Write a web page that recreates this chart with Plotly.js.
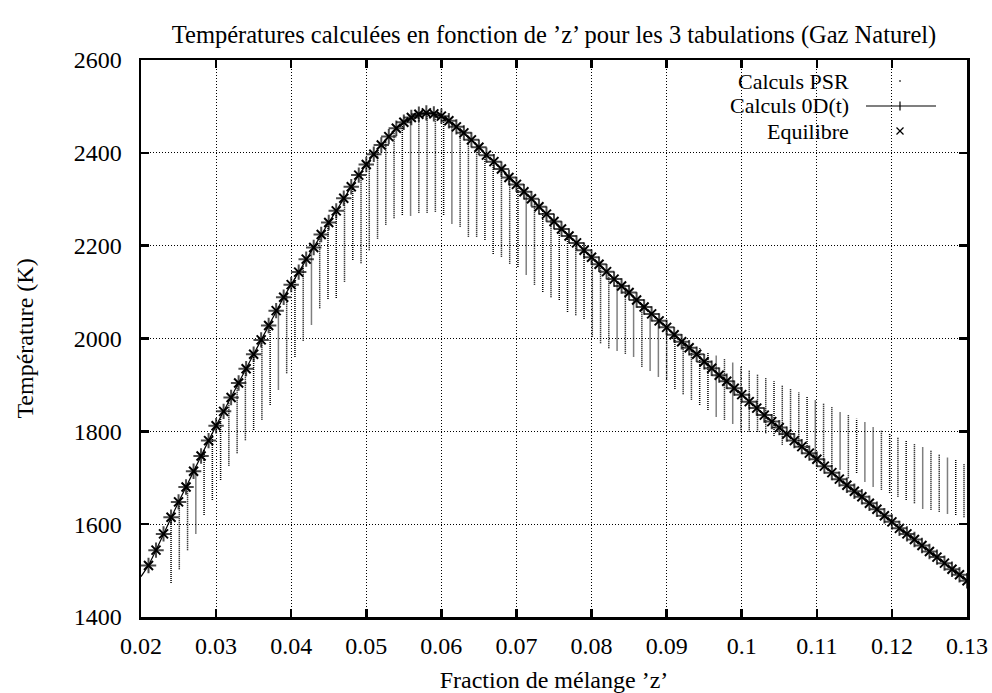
<!DOCTYPE html>
<html>
<head>
<meta charset="utf-8">
<script src="https://cdn.plot.ly/plotly-3.0.1.min.js"></script>
<style>
  html, body { margin: 0; padding: 0; background: #fff; }
  #chart { width: 992px; height: 693px; }
</style>
</head>
<body>
<div id="chart"></div>
<script>
// Mixture fraction grid of the 0D(t) runs
const z0D = [0.020, 0.021, 0.022, 0.023, 0.024, 0.025, 0.026, 0.027, 0.028, 0.029,
  0.030, 0.031, 0.032, 0.033, 0.034, 0.035, 0.036, 0.037, 0.038, 0.039,
  0.040, 0.041, 0.042, 0.043, 0.044, 0.045, 0.046, 0.047, 0.048, 0.049,
  0.050, 0.051, 0.052, 0.053, 0.054, 0.055, 0.056, 0.057, 0.058, 0.059,
  0.060, 0.061, 0.062, 0.063, 0.064, 0.065, 0.066, 0.067, 0.068, 0.069,
  0.070, 0.071, 0.072, 0.073, 0.074, 0.075, 0.076, 0.077, 0.078, 0.079,
  0.080, 0.081, 0.082, 0.083, 0.084, 0.085, 0.086, 0.087, 0.088, 0.089,
  0.090, 0.091, 0.092, 0.093, 0.094, 0.095, 0.096, 0.097, 0.098, 0.099,
  0.100, 0.101, 0.102, 0.103, 0.104, 0.105, 0.106, 0.107, 0.108, 0.109,
  0.110, 0.111, 0.112, 0.113, 0.114, 0.115, 0.116, 0.117, 0.118, 0.119,
  0.120, 0.121, 0.122, 0.123, 0.124, 0.125, 0.126, 0.127, 0.128, 0.129, 0.130];

// Final temperature of the 0D(t) computations (K)
const t0D = [1487, 1511, 1544, 1579, 1615, 1648, 1680, 1714, 1747, 1780,
  1812, 1843, 1873, 1904, 1935, 1966, 1997, 2028, 2060, 2089,
  2116, 2143, 2171, 2196, 2224, 2250, 2275, 2302, 2327, 2352,
  2375, 2397, 2417, 2435, 2453, 2466, 2476, 2483, 2486, 2484,
  2479, 2469, 2456, 2443, 2428, 2412, 2395, 2381, 2365, 2347,
  2332, 2316, 2301, 2284, 2268, 2252, 2236, 2221, 2206, 2190,
  2175, 2160, 2144, 2128, 2113, 2099, 2083, 2068, 2053, 2038,
  2024, 2008, 1993, 1980, 1966, 1950, 1936, 1921, 1908, 1893,
  1879, 1864, 1850, 1835, 1821, 1808, 1794, 1780, 1767, 1753,
  1740, 1725, 1711, 1697, 1684, 1671, 1659, 1645, 1632, 1618,
  1605, 1591, 1579, 1567, 1554, 1541, 1529, 1516, 1503, 1491, 1478];

// Equilibrium table
const zEq = [0.021, 0.022, 0.023, 0.024, 0.025, 0.026, 0.027, 0.028, 0.029,
  0.030, 0.031, 0.032, 0.033, 0.034, 0.035, 0.036, 0.037, 0.038, 0.039,
  0.040, 0.041, 0.042, 0.043, 0.044, 0.045, 0.046, 0.047, 0.048, 0.049,
  0.050, 0.051, 0.052, 0.053, 0.054, 0.055, 0.056, 0.057, 0.058, 0.059,
  0.060, 0.061, 0.062, 0.063, 0.064, 0.065, 0.066, 0.067, 0.068, 0.069,
  0.070, 0.071, 0.072, 0.073, 0.074, 0.075, 0.076, 0.077, 0.078, 0.079,
  0.080, 0.081, 0.082, 0.083, 0.084, 0.085, 0.086, 0.087, 0.088, 0.089,
  0.090, 0.091, 0.092, 0.093, 0.094, 0.095, 0.096, 0.097, 0.098, 0.099,
  0.100, 0.101, 0.102, 0.103, 0.104, 0.105, 0.106, 0.107, 0.108, 0.109,
  0.110, 0.111, 0.112, 0.113, 0.114, 0.115, 0.116, 0.117, 0.118, 0.119,
  0.120, 0.121, 0.122, 0.123, 0.124, 0.125, 0.126, 0.127, 0.128, 0.129, 0.130];

const tEq = [1511, 1544, 1579, 1615, 1648, 1680, 1714, 1747, 1780,
  1812, 1843, 1873, 1904, 1935, 1966, 1997, 2028, 2060, 2089,
  2116, 2143, 2171, 2196, 2224, 2250, 2275, 2302, 2327, 2352,
  2375, 2397, 2417, 2435, 2453, 2466, 2476, 2483, 2486, 2484,
  2479, 2469, 2456, 2443, 2428, 2412, 2395, 2381, 2365, 2347,
  2332, 2316, 2301, 2284, 2268, 2252, 2236, 2221, 2206, 2190,
  2175, 2160, 2144, 2128, 2113, 2099, 2083, 2068, 2053, 2038,
  2024, 2008, 1993, 1980, 1966, 1950, 1936, 1921, 1908, 1893,
  1879, 1864, 1850, 1835, 1821, 1808, 1794, 1780, 1767, 1753,
  1740, 1725, 1711, 1697, 1684, 1671, 1659, 1645, 1632, 1618,
  1605, 1591, 1579, 1567, 1554, 1541, 1529, 1516, 1503, 1491, 1478];

// PSR computations: for each z, the span of temperatures reached over the residence times
const zPsr = [0.0240, 0.0251, 0.0262, 0.0273, 0.0284, 0.0295, 0.0306, 0.0317, 0.0328, 0.0339,
  0.0350, 0.0361, 0.0372, 0.0383, 0.0394, 0.0405, 0.0416, 0.0427, 0.0438, 0.0449,
  0.0460, 0.0471, 0.0482, 0.0493, 0.0504, 0.0515, 0.0526, 0.0537, 0.0548, 0.0559,
  0.0570, 0.0581, 0.0592, 0.0603, 0.0614, 0.0625, 0.0636, 0.0647, 0.0658, 0.0669,
  0.0680, 0.0691, 0.0702, 0.0713, 0.0724, 0.0735, 0.0746, 0.0757, 0.0768, 0.0779,
  0.0790, 0.0801, 0.0812, 0.0823, 0.0834, 0.0845, 0.0856, 0.0867, 0.0878, 0.0889,
  0.0900, 0.0911, 0.0922, 0.0933, 0.0944, 0.0955, 0.0966, 0.0977, 0.0988, 0.0999,
  0.1010, 0.1021, 0.1032, 0.1043, 0.1054, 0.1065, 0.1076, 0.1087, 0.1098, 0.1109,
  0.1120, 0.1131, 0.1142, 0.1153, 0.1164, 0.1175, 0.1186, 0.1197, 0.1208, 0.1219,
  0.1230, 0.1241, 0.1252, 0.1263, 0.1274, 0.1285, 0.1296];

const psrMax = [1615, 1651, 1687, 1724, 1760, 1796, 1831, 1864, 1898, 1932,
  1966, 2000, 2034, 2069, 2100, 2130, 2160, 2188, 2218, 2247,
  2275, 2304, 2332, 2359, 2384, 2407, 2428, 2448, 2463, 2475,
  2483, 2486, 2484, 2477, 2464, 2449, 2434, 2417, 2399, 2382,
  2365, 2346, 2329, 2311, 2294, 2276, 2258, 2241, 2224, 2207,
  2190, 2173, 2157, 2139, 2122, 2106, 2089, 2073, 2056, 2040,
  2024, 2007, 1995, 1987, 1979, 1971, 1963, 1956, 1948, 1940,
  1932, 1924, 1916, 1908, 1900, 1892, 1884, 1876, 1868, 1860,
  1852, 1842, 1835, 1827, 1819, 1810, 1803, 1796, 1788, 1780,
  1773, 1765, 1758, 1751, 1744, 1738, 1731];

const psrMin = [1473, 1503, 1544, 1580, 1620, 1652, 1695, 1726, 1753, 1781,
  1803, 1825, 1857, 1890, 1925, 1960, 1995, 2030, 2065, 2085,
  2087, 2122, 2169, 2162, 2190, 2215, 2245, 2259, 2266, 2265,
  2271, 2271, 2273, 2266, 2248, 2241, 2219, 2219, 2212, 2182,
  2176, 2161, 2154, 2138, 2116, 2100, 2089, 2083, 2057, 2050,
  2042, 2004, 1990, 1979, 1974, 1967, 1961, 1939, 1931, 1918,
  1911, 1891, 1880, 1868, 1857, 1846, 1832, 1825, 1817, 1799,
  1799, 1799, 1796, 1790, 1771, 1785, 1767, 1760, 1735, 1728,
  1725, 1718, 1699, 1710, 1692, 1681, 1674, 1667, 1659, 1652,
  1645, 1634, 1631, 1627, 1623, 1620, 1615];

const xTickVals = [0.02, 0.03, 0.04, 0.05, 0.06, 0.07, 0.08, 0.09, 0.10, 0.11, 0.12, 0.13];
const xTickLabels = ['0.02', '0.03', '0.04', '0.05', '0.06', '0.07', '0.08', '0.09', '0.1', '0.11', '0.12', '0.13'];
const yTickVals = [1400, 1600, 1800, 2000, 2200, 2400, 2600];
const yTickLabels = ['1400', '1600', '1800', '2000', '2200', '2400', '2600'];

const seriesNames = ['Calculs PSR', 'Calculs 0D(t)', 'Equilibre'];

// Each PSR column becomes one dotted vertical segment (null breaks the path)
const psrX = [], psrY = [];
zPsr.forEach((z, i) => {
  psrX.push(z, z, null);
  psrY.push(psrMin[i], psrMax[i], null);
});

const FONT = '"Liberation Serif", "Times New Roman", Times, serif';
const W = 992, H = 693;
const M = { l: 141, r: 25, t: 60, b: 76 };
const plotW = W - M.l - M.r, plotH = H - M.t - M.b;
// page pixel -> paper fraction, used only for the key in the corner
const px = x => (x - M.l) / plotW;
const py = y => (H - M.b - y) / plotH;

const traces = [
  {
    type: 'scatter', mode: 'lines', name: seriesNames[0],
    x: psrX, y: psrY, connectgaps: false,
    line: { color: '#000', width: 1.5, dash: '1px,1px' },
    hoverinfo: 'skip', showlegend: false
  },
  {
    type: 'scatter', mode: 'lines+markers', name: seriesNames[1],
    x: z0D, y: t0D,
    line: { color: '#000', width: 1.2 },
    marker: { symbol: 'cross-thin', size: z0D.map(z => z < 0.0205 ? 0 : 11),
              color: '#000', line: { color: '#000', width: 2 } },
    showlegend: false
  },
  {
    type: 'scatter', mode: 'markers', name: seriesNames[2],
    x: zEq, y: tEq,
    marker: { symbol: 'x-thin', size: 9, color: '#000', line: { color: '#000', width: 2 } },
    showlegend: false
  }
];

// Key in the upper right corner: label on the left, sample on the right
const keyRows = [81, 106, 131];
const keyTextRight = 850;
const keySampleX = 900;
const annotations = seriesNames.map((name, i) => ({
  xref: 'paper', yref: 'paper', x: px(keyTextRight), y: py(keyRows[i]),
  xanchor: 'right', yanchor: 'middle', text: name, showarrow: false,
  borderpad: 0,
  font: { family: FONT, size: 22, color: '#000' }
}));

const shapes = [
  // PSR: a single dot
  { type: 'rect', xref: 'paper', yref: 'paper',
    x0: px(keySampleX - 0.7), x1: px(keySampleX + 0.7), y0: py(keyRows[0] + 0.7), y1: py(keyRows[0] - 0.7),
    line: { width: 0 }, fillcolor: '#000' },
  // 0D(t): line with a plus
  { type: 'line', xref: 'paper', yref: 'paper',
    x0: px(866), x1: px(936), y0: py(keyRows[1]), y1: py(keyRows[1]),
    line: { color: '#000', width: 1.2 } },
  { type: 'line', xref: 'paper', yref: 'paper',
    x0: px(keySampleX), x1: px(keySampleX), y0: py(keyRows[1] - 4.5), y1: py(keyRows[1] + 4.5),
    line: { color: '#000', width: 1.2 } },
  // Equilibre: a cross
  { type: 'line', xref: 'paper', yref: 'paper',
    x0: px(keySampleX - 3.5), x1: px(keySampleX + 3.5), y0: py(keyRows[2] - 3.5), y1: py(keyRows[2] + 3.5),
    line: { color: '#000', width: 1.2 } },
  { type: 'line', xref: 'paper', yref: 'paper',
    x0: px(keySampleX - 3.5), x1: px(keySampleX + 3.5), y0: py(keyRows[2] + 3.5), y1: py(keyRows[2] - 3.5),
    line: { color: '#000', width: 1.2 } }
];

const axisCommon = {
  showline: true, linecolor: '#000', linewidth: 2.5, mirror: 'allticks',
  ticks: 'inside', ticklen: 8, tickwidth: 2.5, tickcolor: '#000',
  showgrid: true, gridcolor: '#000', gridwidth: 1, griddash: '1px,2px',
  zeroline: false, tickmode: 'array',
  tickfont: { family: FONT, size: 24, color: '#000' }
};

const layout = {
  width: W, height: H, margin: M,
  paper_bgcolor: '#fff', plot_bgcolor: '#fff',
  showlegend: false,
  font: { family: FONT, size: 24, color: '#000' },
  title: {
    text: 'Températures calculées en fonction de ’z’ pour les 3 tabulations (Gaz Naturel)',
    font: { family: FONT, size: 24.5, color: '#000' },
    xref: 'paper', x: 0.5, xanchor: 'center',
    yref: 'container', y: 1 - 34 / H, yanchor: 'middle'
  },
  xaxis: Object.assign({}, axisCommon, {
    range: [0.02, 0.13], tickvals: xTickVals, ticktext: xTickLabels,
    ticklabelstandoff: 6,
    title: { text: 'Fraction de mélange ’z’', font: { family: FONT, size: 24, color: '#000' }, standoff: 16 }
  }),
  yaxis: Object.assign({}, axisCommon, {
    range: [1400, 2600], tickvals: yTickVals, ticktext: yTickLabels,
    ticklabelstandoff: 12,
    title: { text: 'Température (K)', font: { family: FONT, size: 24, color: '#000' }, standoff: 34 }
  }),
  annotations: annotations,
  shapes: shapes
};

Plotly.newPlot('chart', traces, layout, { staticPlot: true, displayModeBar: false });
</script>
</body>
</html>
